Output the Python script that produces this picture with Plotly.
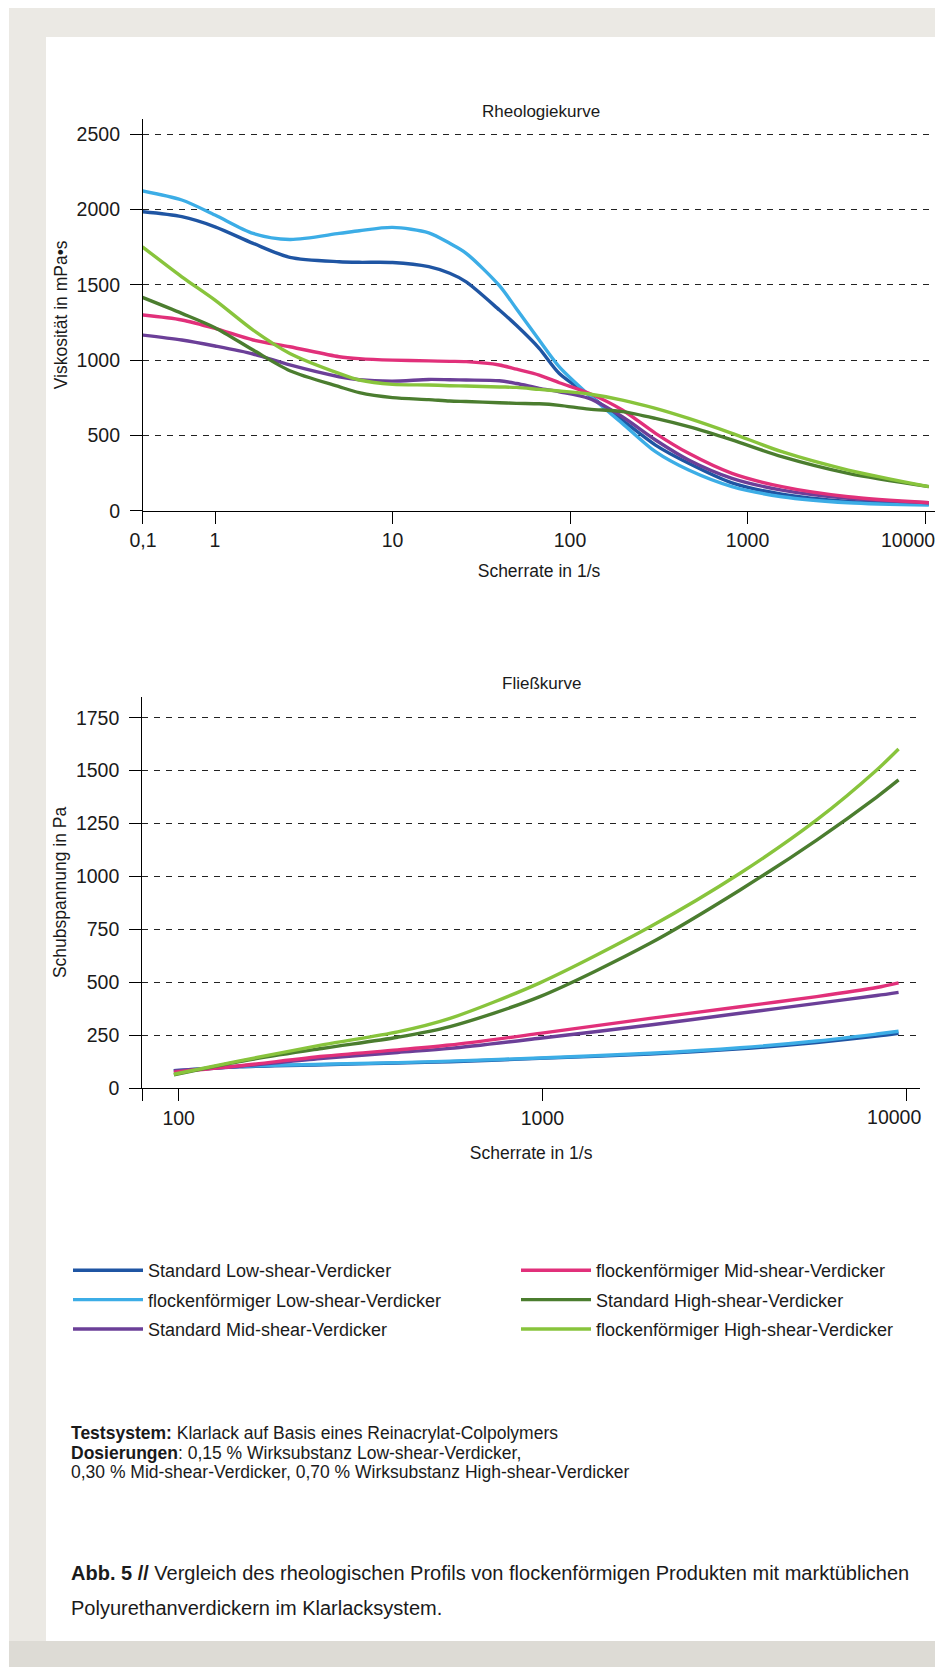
import plotly.graph_objects as go

# ---------------- data ----------------
series_names = [
    "Standard Low-shear-Verdicker",
    "flockenförmiger Low-shear-Verdicker",
    "Standard Mid-shear-Verdicker",
    "flockenförmiger Mid-shear-Verdicker",
    "Standard High-shear-Verdicker",
    "flockenförmiger High-shear-Verdicker",
]
series_colors = ["#1f55a3", "#3cade6", "#6b3f98", "#e1307a", "#4b7d2f", "#88c43c"]

# Rheologiekurve: Viskosität (mPa*s) vs. Scherrate (1/s)
rheo_rate = [0.39, 0.65, 1, 1.64, 2.64, 5.0, 6.5, 10, 16, 21, 26, 40, 50, 67, 87,
             128, 197, 303, 466, 817, 1560, 3690, 10500]
visc_std_low = [1986, 1953, 1886, 1776, 1683, 1654, 1650, 1649, 1621, 1577, 1520, 1333, 1230, 1079, 912,
                768, 602, 436, 315, 185, 110, 62, 42]
visc_flk_low = [2125, 2064, 1964, 1842, 1802, 1842, 1860, 1882, 1846, 1776, 1710, 1495, 1340, 1134, 956,
                768, 580, 392, 270, 160, 93, 53, 38]
visc_std_mid = [1167, 1134, 1094, 1041, 968, 890, 870, 861, 872, 870, 868, 863, 845, 813, 790,
                746, 624, 470, 337, 215, 137, 82, 53]
visc_flk_mid = [1300, 1267, 1211, 1134, 1089, 1023, 1010, 1000, 995, 992, 990, 968, 940, 901, 850,
                780, 669, 514, 381, 248, 160, 93, 53]
visc_std_high = [1417, 1311, 1216, 1067, 930, 824, 784, 751, 738, 729, 725, 717, 713, 710, 700,
                 675, 658, 613, 558, 470, 359, 248, 160]
visc_flk_high = [1753, 1554, 1399, 1200, 1045, 912, 868, 839, 835, 830, 828, 822, 819, 806, 795,
                 775, 735, 680, 613, 514, 392, 270, 160]

# Fließkurve: Schubspannung (Pa) vs. Scherrate (1/s)
flow_rate = [97, 147, 250, 400, 557, 984, 1977, 3494, 5675, 8300, 9530]
stress_std_low = [80, 100, 110, 118, 124, 140, 160, 185, 215, 245, 258]
stress_flk_low = [82, 102, 112, 120, 127, 142, 164, 190, 222, 255, 268]
stress_std_mid = [82, 103, 140, 168, 187, 235, 298, 353, 400, 437, 452]
stress_flk_mid = [75, 105, 150, 180, 203, 258, 329, 384, 432, 475, 497]
stress_std_high = [62, 125, 188, 240, 290, 432, 684, 936, 1172, 1375, 1456]
stress_flk_high = [65, 128, 205, 265, 329, 497, 762, 1015, 1267, 1503, 1602]

visc_series = [visc_std_low, visc_flk_low, visc_std_mid, visc_flk_mid, visc_std_high, visc_flk_high]
stress_series = [stress_std_low, stress_flk_low, stress_std_mid, stress_flk_mid, stress_std_high, stress_flk_high]

rheo_tick_vals = [0.3929, 1, 10, 100, 1000]
rheo_tick_text = ["0,1", "1", "10", "100", "1000"]
rheo_last_tick = 10000
rheo_last_text = "10000"
visc_tick_vals = [0, 500, 1000, 1500, 2000, 2500]
flow_tick_vals = [79.4, 100, 1000]
flow_tick_text = ["", "100", "1000"]
flow_last_tick = 10000
flow_last_text = "10000"
stress_tick_vals = [0, 250, 500, 750, 1000, 1250, 1500, 1750]

# ---------------- figure ----------------
W, H = 935, 1667
FONT = "Liberation Sans, Arial, Helvetica, sans-serif"
TXT = "#1a1a1a"


def px_x(p):
    return p / W


def px_y(p):
    return 1 - p / H


fig = go.Figure()

for i, name in enumerate(series_names):
    fig.add_trace(go.Scatter(
        x=rheo_rate, y=visc_series[i], mode="lines", name=name,
        line=dict(color=series_colors[i], width=3.4, shape="spline", smoothing=0.8),
        xaxis="x", yaxis="y", legendgroup=name,
        legend="legend" if i < 3 else "legend2",
    ))
for i, name in enumerate(series_names):
    fig.add_trace(go.Scatter(
        x=flow_rate, y=stress_series[i], mode="lines", name=name,
        line=dict(color=series_colors[i], width=3.4, shape="spline", smoothing=0.8),
        xaxis="x2", yaxis="y2", legendgroup=name, showlegend=False,
    ))

# empty carriers so the label-only overlay axes get drawn
fig.add_trace(go.Scatter(x=[], y=[], xaxis="x3", yaxis="y", showlegend=False, hoverinfo="skip"))
fig.add_trace(go.Scatter(x=[], y=[], xaxis="x4", yaxis="y2", showlegend=False, hoverinfo="skip"))

tick_font = dict(family=FONT, size=19.5, color=TXT)
axis_common = dict(
    showline=True, linecolor="black", linewidth=1.2,
    ticks="outside", ticklen=12, tickcolor="black", tickwidth=1.2,
    tickfont=tick_font, zeroline=False, automargin=False,
)
# helper axes that only carry the (shifted) last tick label
label_axis = dict(
    showline=False, showgrid=False, zeroline=False, automargin=False,
    ticks="outside", ticklen=12, tickcolor="rgba(0,0,0,0)", tickwidth=1.2,
    tickfont=tick_font, ticklabeloverflow="allow", type="log", side="bottom",
)
grid_common = dict(showgrid=True, gridcolor="#222222", gridwidth=1, griddash="6px,6px")
title_font = dict(family=FONT, size=17.5, color=TXT)
legend_common = dict(
    xanchor="left", yanchor="top", orientation="v",
    font=dict(family=FONT, size=18, color=TXT), bgcolor="rgba(0,0,0,0)",
    itemwidth=70, tracegroupgap=3,
)

x1_domain = [px_x(143), 1.0]
x1_range = [-0.4056, 4.056]
x2_domain = [px_x(142.3), px_x(920)]
x2_range = [1.9, 4.038]

fig.update_layout(
    width=W, height=H,
    margin=dict(l=0, r=0, t=0, b=0, autoexpand=False),
    paper_bgcolor="white", plot_bgcolor="rgba(0,0,0,0)",
    font=dict(family=FONT, color=TXT),
    xaxis=dict(
        domain=x1_domain, type="log", range=x1_range, anchor="y",
        tickvals=rheo_tick_vals + [rheo_last_tick], ticktext=rheo_tick_text + [""], showgrid=False,
        title=dict(text="Scherrate in 1/s", font=title_font, standoff=14),
        **axis_common,
    ),
    xaxis3=dict(
        domain=x1_domain, range=x1_range, anchor="y", overlaying="x",
        tickvals=[rheo_last_tick], ticktext=[rheo_last_text], ticklabelshift=-17,
        **label_axis,
    ),
    yaxis=dict(
        domain=[px_y(510.7), px_y(119)], range=[0, 2602], anchor="x",
        tickvals=visc_tick_vals, ticktext=[str(v) for v in visc_tick_vals],
        ticklabelstandoff=6,
        title=dict(text="Viskosität in mPa•s", font=title_font, standoff=4),
        **axis_common, **grid_common,
    ),
    xaxis2=dict(
        domain=x2_domain, type="log", range=x2_range, anchor="y2",
        tickvals=flow_tick_vals + [flow_last_tick], ticktext=flow_tick_text + [""], showgrid=False,
        title=dict(text="Scherrate in 1/s", font=title_font, standoff=19),
        **axis_common,
    ),
    xaxis4=dict(
        domain=x2_domain, range=x2_range, anchor="y2", overlaying="x2",
        tickvals=[flow_last_tick], ticktext=[flow_last_text], ticklabelshift=-12,
        **label_axis,
    ),
    yaxis2=dict(
        domain=[px_y(1088), px_y(697)], range=[0, 1848], anchor="x2",
        tickvals=stress_tick_vals, ticktext=[str(v) for v in stress_tick_vals],
        ticklabelstandoff=6,
        title=dict(text="Schubspannung in Pa", font=title_font, standoff=4),
        **axis_common, **grid_common,
    ),
    legend=dict(x=px_x(68), y=px_y(1252), **legend_common),
    legend2=dict(x=px_x(516), y=px_y(1252), **legend_common),
)

# page background bands
band = "#ebe9e4"
fig.add_shape(type="rect", xref="paper", yref="paper", x0=px_x(9), x1=1, y0=px_y(37), y1=px_y(8),
              fillcolor=band, line_width=0, layer="below")
fig.add_shape(type="rect", xref="paper", yref="paper", x0=px_x(9), x1=px_x(46), y0=0, y1=px_y(8),
              fillcolor=band, line_width=0, layer="below")
fig.add_shape(type="rect", xref="paper", yref="paper", x0=px_x(9), x1=1, y0=0, y1=px_y(1641),
              fillcolor="#dddbd5", line_width=0, layer="below")

# chart titles
fig.add_annotation(text="Rheologiekurve", xref="paper", yref="paper", x=px_x(541), y=px_y(111),
                   showarrow=False, xanchor="center", yanchor="middle",
                   font=dict(family=FONT, size=17, color=TXT))
fig.add_annotation(text="Fließkurve", xref="paper", yref="paper", x=px_x(541), y=px_y(684),
                   showarrow=False, xanchor="center", yanchor="middle",
                   font=dict(family=FONT, size=17, color=TXT))

# notes
notes = [
    ("<b>Testsystem:</b> Klarlack auf Basis eines Reinacrylat-Colpolymers", 1433),
    ("<b>Dosierungen</b>: 0,15 % Wirksubstanz Low-shear-Verdicker,", 1452.5),
    ("0,30 % Mid-shear-Verdicker, 0,70 % Wirksubstanz High-shear-Verdicker", 1472),
]
for t, yy in notes:
    fig.add_annotation(text=t, xref="paper", yref="paper", x=px_x(69), y=px_y(yy),
                       showarrow=False, xanchor="left", yanchor="middle",
                       font=dict(family=FONT, size=17.5, color=TXT))

caption = [
    ("<b>Abb. 5 //</b> Vergleich des rheologischen Profils von flockenförmigen Produkten mit marktüblichen", 1573),
    ("Polyurethanverdickern im Klarlacksystem.", 1608),
]
for t, yy in caption:
    fig.add_annotation(text=t, xref="paper", yref="paper", x=px_x(69), y=px_y(yy),
                       showarrow=False, xanchor="left", yanchor="middle",
                       font=dict(family=FONT, size=20, color=TXT))

fig.write_html(
    "out.html",
    config={"displayModeBar": False},
    post_script=(
        "document.documentElement.style.margin='0';"
        "document.body.style.margin='0';"
        "document.body.style.overflow='hidden';"
        "document.documentElement.style.overflow='hidden';"
    ),
)
